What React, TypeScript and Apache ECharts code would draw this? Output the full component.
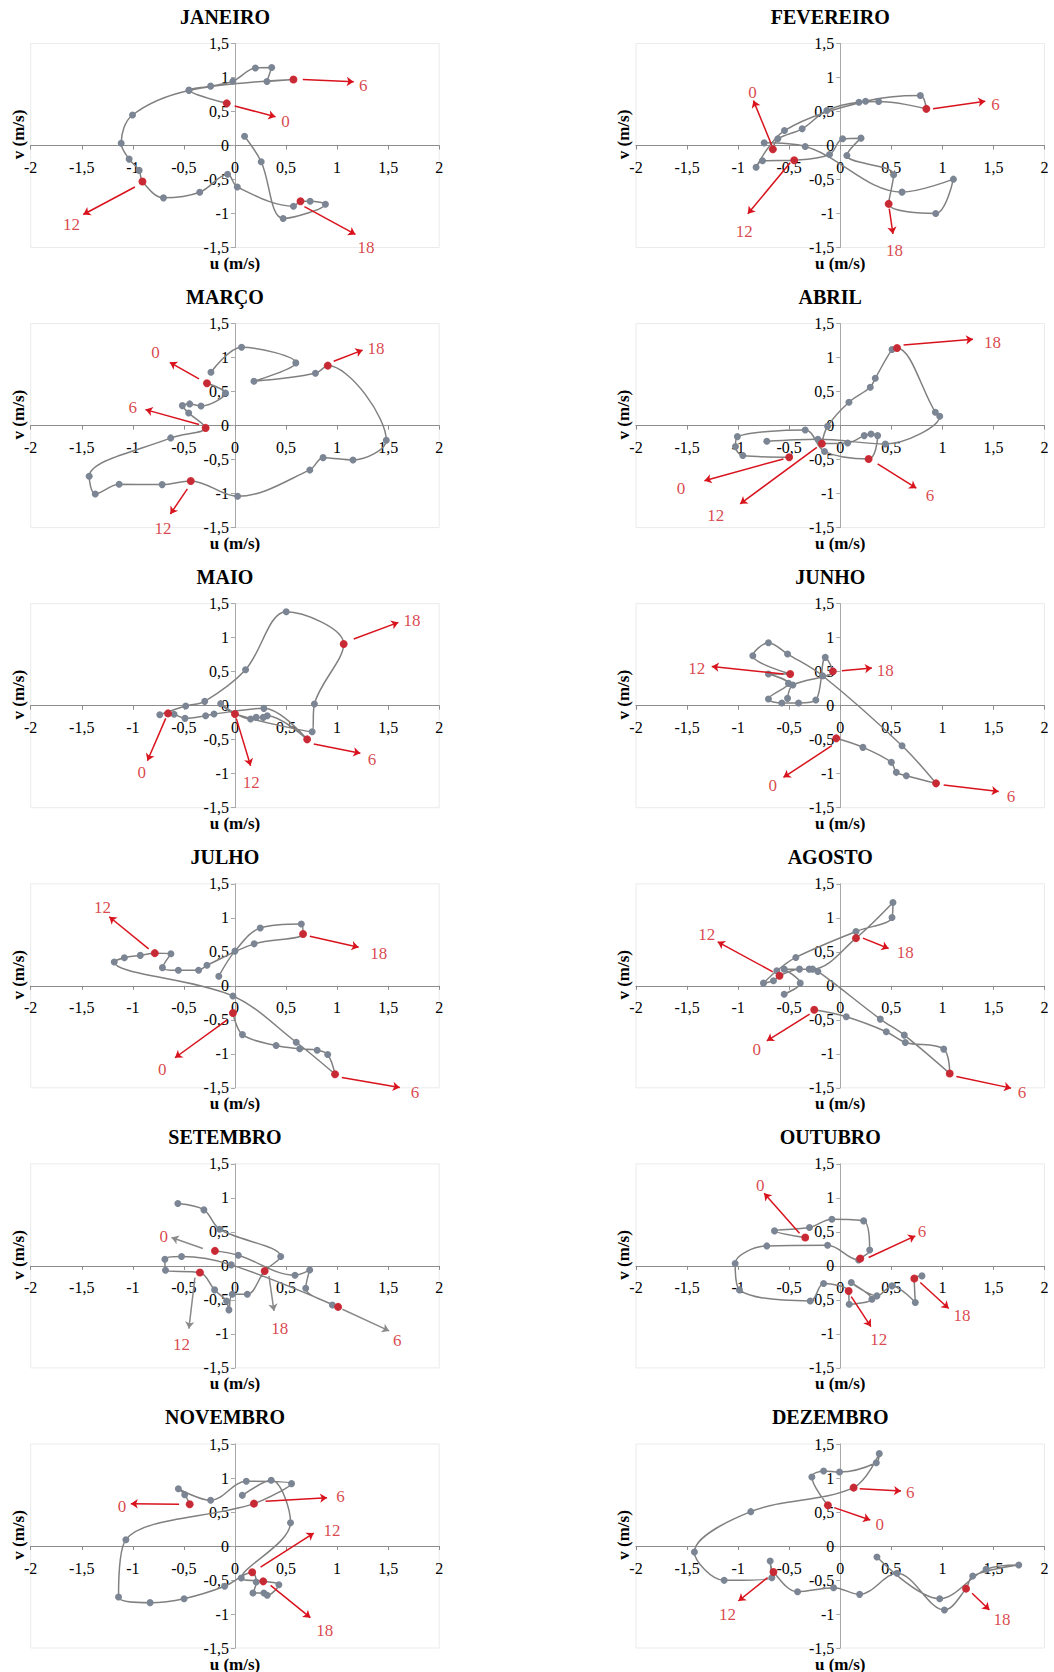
import React, { useEffect, useRef } from "react";
import * as echarts from "echarts";

const months = ["JANEIRO", "FEVEREIRO", "MARÇO", "ABRIL", "MAIO", "JUNHO", "JULHO", "AGOSTO", "SETEMBRO", "OUTUBRO", "NOVEMBRO", "DEZEMBRO"];
const hourLabels = ["0", "6", "12", "18"];

// ---- JANEIRO ----
const janPath = [[-0.08,0.62],[-0.45,0.815],[-0.238,0.873],[-0.02,0.946],[0.2,1.14],[0.36,1.146],[0.313,0.94],[0.573,0.97],[-0.45,0.81],[-1.003,0.449],[-1.114,0.034],[-1.036,-0.2],[-0.938,-0.366],[-0.906,-0.53],[-0.7,-0.77],[-0.345,-0.688],[-0.072,-0.424],[0.023,-0.61],[0.573,-0.893],[0.642,-0.82],[0.736,-0.82],[0.886,-0.863],[0.472,-1.073],[0.257,-0.239],[0.094,0.137]];
const janMarks = [0, 7, 13, 19];
const janArrows = [[-0.003,0.58,0.397,0.424],[0.664,0.97,1.163,0.937],[-0.98,-0.61,-1.485,-1.015],[0.68,-0.9,1.18,-1.307]];
const janLabels = [[0.495,0.35],[1.257,0.888],[-1.6,-1.16],[1.283,-1.5]];

// ---- FEVEREIRO ----
const fevPath = [[-0.66,-0.054],[-0.611,0.098],[-0.373,0.245],[-0.131,0.515],[0.183,0.637],[0.376,0.647],[0.843,0.539],[0.784,0.735],[0.248,0.652],[-0.546,0.22],[-0.824,-0.319],[-0.761,-0.225],[-0.451,-0.216],[-0.105,-0.132],[0.023,0.098],[0.203,0.108],[0.065,-0.147],[0.523,-0.431],[0.474,-0.858],[0.935,-1.0],[1.108,-0.495],[0.605,-0.686],[-0.343,-0.015],[-0.745,0.039]];
const fevMarks = [0, 6, 12, 18];
const fevArrows = [[-0.67,0.0,-0.85,0.66],[0.908,0.539,1.42,0.652],[-0.49,-0.255,-0.905,-1.005],[0.48,-0.93,0.516,-1.3]];
const fevLabels = [[-0.86,0.78],[1.52,0.61],[-0.94,-1.27],[0.53,-1.54]];

// ---- MARÇO ----
const marPath = [[-0.274,0.623],[-0.094,0.48],[-0.332,0.289],[-0.443,0.319],[-0.515,0.294],[-0.453,0.186],[-0.287,-0.034],[-0.629,-0.181],[-1.427,-0.745],[-1.368,-1.005],[-1.134,-0.863],[-0.713,-0.868],[-0.433,-0.814],[0.026,-1.04],[0.733,-0.652],[0.863,-0.471],[1.156,-0.505],[1.482,-0.216],[0.909,0.882],[0.788,0.77],[0.186,0.652],[0.596,0.922],[0.065,1.152],[-0.235,0.784]];
const marMarks = [0, 6, 12, 18];
const marArrows = [[-0.352,0.686,-0.638,0.93],[-0.352,0.015,-0.876,0.235],[-0.466,-0.93,-0.632,-1.3],[0.967,0.946,1.25,1.11]];
const marLabels = [[-0.778,1.07],[-1.0,0.26],[-0.704,-1.52],[1.38,1.14]];

// ---- ABRIL ----
const abrPath = [[-0.5,-0.466],[-0.954,-0.441],[-1.026,-0.309],[-1.007,-0.162],[-0.343,-0.064],[-0.154,-0.382],[0.278,-0.49],[0.366,-0.147],[0.301,-0.123],[0.235,-0.147],[0.072,-0.255],[-0.18,-0.265],[-0.124,-0.01],[0.085,0.343],[0.294,0.564],[0.343,0.696],[0.507,1.118],[0.556,1.142],[0.931,0.196],[0.974,0.137],[0.441,-0.27],[-0.219,-0.2],[-0.719,-0.23]];
const abrMarks = [0, 6, 11, 17];
const abrArrows = [[-0.556,-0.49,-1.33,-0.81],[0.366,-0.564,0.745,-0.92],[-0.229,-0.32,-0.98,-1.15],[0.62,1.186,1.3,1.27]];
const abrLabels = [[-1.56,-0.92],[0.88,-1.03],[-1.22,-1.32],[1.49,1.225]];

// ---- MAIO ----
const maiPath = [[-0.655,-0.113],[-0.596,-0.127],[-0.489,-0.186],[-0.287,-0.147],[-0.205,-0.123],[0.283,-0.039],[0.707,-0.495],[0.316,-0.147],[0.277,-0.172],[0.208,-0.172],[0.153,-0.196],[-0.14,0.03],[0,-0.123],[0.756,-0.382],[0.778,0.025],[1.065,0.907],[0.502,1.382],[0.104,0.529],[-0.296,0.064],[-0.482,-0.005],[-0.736,-0.132]];
const maiMarks = [0, 6, 12, 15];
const maiArrows = [[-0.678,-0.186,-0.857,-0.809],[0.772,-0.564,1.228,-0.7],[0.013,-0.186,0.153,-0.882],[1.163,0.98,1.6,1.225]];
const maiLabels = [[-0.912,-0.98],[1.342,-0.784],[0.16,-1.127],[1.733,1.26]];

// ---- JUNHO ----
const junPath = [[-0.039,-0.48],[0.222,-0.613],[0.5,-0.833],[0.549,-0.98],[0.647,-1.029],[0.938,-1.142],[0.605,-0.588],[-0.173,0.441],[-0.516,0.76],[-0.703,0.926],[-0.856,0.735],[-0.49,0.466],[-0.703,0.466],[-0.507,0.328],[-0.703,0.098],[-0.572,0.039],[-0.408,0.039],[-0.239,0.083],[-0.147,0.711],[-0.072,0.505],[-0.464,0.304],[-0.516,0.108]];
const junMarks = [0, 5, 11, 19];
const junArrows = [[-0.082,-0.588,-0.556,-1.054],[1.013,-1.167,1.552,-1.26],[-0.556,0.466,-1.258,0.578],[0.016,0.515,0.31,0.554]];
const junLabels = [[-0.66,-1.176],[1.673,-1.333],[-1.405,0.549],[0.441,0.515]];

// ---- JULHO ----
const julPath = [[-0.02,-0.4],[0.073,-0.718],[0.403,-0.879],[0.634,-0.927],[0.805,-0.947],[0.908,-1.01],[0.98,-1.3],[0.6,-0.83],[-0.02,-0.15],[-1.182,0.35],[-1.083,0.413],[-0.927,0.447],[-0.785,0.48],[-0.627,0.471],[-0.71,0.267],[-0.554,0.228],[-0.356,0.228],[-0.274,0.301],[0.188,0.617],[0.667,0.762],[0.65,0.908],[0.248,0.85],[0,0.51],[-0.158,0.141]];
const julMarks = [0, 6, 12, 19];
const julArrows = [[-0.076,-0.5,-0.587,-1.058],[1.046,-1.35,1.614,-1.495],[-0.845,0.544,-1.231,1.015],[0.733,0.728,1.211,0.568]];
const julLabels = [[-0.713,-1.228],[1.762,-1.568],[-1.297,1.15],[1.409,0.471]];

// ---- AGOSTO ----
const agoPath = [[-0.255,-0.353],[0.059,-0.456],[0.451,-0.676],[0.637,-0.833],[1.013,-0.931],[1.072,-1.289],[0.627,-0.725],[0.392,-0.49],[-0.219,0.211],[-0.304,0.245],[-0.399,0.245],[-0.595,0.147],[-0.654,0.074],[-0.752,0.039],[-0.621,0.221],[-0.435,0.417],[0.154,0.799],[0.507,1.005],[0.516,1.225],[0.154,0.701],[-0.271,0.245],[-0.549,0.245],[-0.392,0.039],[-0.549,-0.123]];
const agoMarks = [0, 5, 11, 19];
const agoArrows = [[-0.3,-0.417,-0.719,-0.809],[1.137,-1.333,1.673,-1.505],[-0.66,0.206,-1.2,0.647],[0.222,0.701,0.474,0.549]];
const agoLabels = [[-0.817,-0.94],[1.78,-1.57],[-1.307,0.76],[0.637,0.49]];

// ---- SETEMBRO ----
const setPath = [[-0.196,0.221],[0.033,0.157],[0.588,-0.137],[0.732,-0.059],[0.693,-0.328],[0.954,-0.574],[1.01,-0.603],[-0.036,0.015],[-0.523,0.137],[-0.686,0.098],[-0.68,-0.064],[-0.343,-0.098],[-0.199,-0.353],[-0.082,-0.515],[-0.059,-0.647],[-0.026,-0.417],[0.121,-0.417],[0.291,-0.074],[0.448,0.137],[-0.15,0.539],[-0.304,0.824],[-0.559,0.917]];
const setMarks = [0, 6, 11, 17];
const setArrows = [[-0.314,0.255,-0.621,0.417],[1.052,-0.637,1.51,-0.956],[-0.392,-0.172,-0.451,-0.922],[0.333,-0.147,0.382,-0.662]];
const setLabels = [[-0.696,0.43],[1.59,-1.1],[-0.523,-1.152],[0.438,-0.92]];

// ---- OUTUBRO ----
const outPath = [[-0.343,0.417],[-0.644,0.515],[-0.301,0.564],[-0.082,0.686],[0.229,0.662],[0.288,0.235],[0.196,0.108],[0.18,0.088],[-0.124,0.304],[-0.719,0.294],[-1.029,0.034],[-0.987,-0.353],[-0.294,-0.515],[-0.163,-0.26],[0.082,-0.368],[0.088,-0.564],[0.31,-0.49],[0.108,-0.245],[0.359,-0.441],[0.507,-0.294],[0.735,-0.539],[0.725,-0.186],[0.8,-0.147]];
const outMarks = [0, 6, 14, 21];
const outArrows = [[-0.399,0.48,-0.745,1.069],[0.278,0.123,0.735,0.441],[0.108,-0.451,0.3,-0.892],[0.784,-0.245,1.062,-0.627]];
const outLabels = [[-0.784,1.176],[0.8,0.505],[0.376,-1.088],[1.193,-0.725]];

// ---- NOVEMBRO ----
const novPath = [[-0.443,0.613],[-0.492,0.755],[-0.554,0.843],[-0.238,0.672],[0.111,0.951],[0.554,0.917],[0.186,0.623],[-1.068,0.093],[-1.14,-0.75],[-0.831,-0.833],[-0.498,-0.775],[-0.101,-0.593],[0.169,-0.387],[0.208,-0.529],[0.176,-0.691],[0.283,-0.691],[0.316,-0.725],[0.43,-0.569],[0.277,-0.52],[0.062,-0.471],[0.544,0.343],[0.355,0.966],[0.072,0.745]];
const novMarks = [0, 6, 12, 18];
const novArrows = [[-0.547,0.613,-1.02,0.623],[0.3,0.657,0.902,0.711],[0.251,-0.309,0.772,0.191],[0.349,-0.578,0.739,-1.054]];
const novLabels = [[-1.107,0.583],[1.033,0.73],[0.951,0.23],[0.88,-1.24]];

// ---- DEZEMBRO ----
const dezPath = [[-0.121,0.598],[-0.278,1.015],[-0.163,1.103],[-0.007,1.088],[0.353,1.225],[0.382,1.358],[0.131,0.858],[-0.876,0.505],[-1.428,-0.088],[-1.137,-0.505],[-0.67,-0.466],[-0.686,-0.221],[-0.654,-0.382],[-0.418,-0.672],[-0.065,-0.613],[0.19,-0.711],[0.556,-0.402],[1.02,-0.941],[1.232,-0.627],[1.297,-0.441],[1.748,-0.279],[1.428,-0.343],[0.974,-0.775],[0.359,-0.162]];
const dezMarks = [0, 6, 12, 18];
const dezArrows = [[-0.059,0.564,0.294,0.382],[0.19,0.843,0.595,0.809],[-0.712,-0.466,-0.997,-0.809],[1.291,-0.696,1.461,-0.941]];
const dezLabels = [[0.386,0.319],[0.686,0.784],[-1.105,-1.005],[1.585,-1.088]];

const xTicks = { min: -2, max: 2, step: 0.5 };
const yTicks = { min: -1.5, max: 1.5, step: 0.5 };

const monthData = [
  { path: janPath, marks: janMarks, arrows: janArrows, labels: janLabels },
  { path: fevPath, marks: fevMarks, arrows: fevArrows, labels: fevLabels },
  { path: marPath, marks: marMarks, arrows: marArrows, labels: marLabels },
  { path: abrPath, marks: abrMarks, arrows: abrArrows, labels: abrLabels },
  { path: maiPath, marks: maiMarks, arrows: maiArrows, labels: maiLabels },
  { path: junPath, marks: junMarks, arrows: junArrows, labels: junLabels },
  { path: julPath, marks: julMarks, arrows: julArrows, labels: julLabels },
  { path: agoPath, marks: agoMarks, arrows: agoArrows, labels: agoLabels },
  { path: setPath, marks: setMarks, arrows: setArrows, labels: setLabels },
  { path: outPath, marks: outMarks, arrows: outArrows, labels: outLabels },
  { path: novPath, marks: novMarks, arrows: novArrows, labels: novLabels },
  { path: dezPath, marks: dezMarks, arrows: dezArrows, labels: dezLabels },
];

const SERIF = '"Liberation Serif", "Times New Roman", serif';
const RED = "#d9131d";
const LINE_GRAY = "#808080";
const DOT_GRAY = "#7b8594";

const COL_LEFT = [30.7, 636];
const PLOT_W = 408.5;
const PLOT_H = 204;
const ROW_TOP0 = 43.5;
const ROW_STEP = 280.1;

const fmt = (v: number) => String(v).replace(".", ",");

function buildOption() {
  const grids: any[] = [];
  const xAxes: any[] = [];
  const yAxes: any[] = [];
  const series: any[] = [];
  const graphics: any[] = [];

  months.forEach((name, i) => {
    const col = i % 2;
    const row = Math.floor(i / 2);
    const left = COL_LEFT[col];
    const top = ROW_TOP0 + ROW_STEP * row;
    grids.push({
      left, top, width: PLOT_W, height: PLOT_H,
      show: true, borderColor: "#ebebeb", borderWidth: 1, backgroundColor: "transparent",
    });
    // axes sit at the zero of the other axis (ranges are symmetric, zero at the centre)
    xAxes.push({
      gridIndex: i, type: "value", min: xTicks.min, max: xTicks.max, interval: xTicks.step,
      position: "bottom", offset: -PLOT_H / 2,
      axisLine: { onZero: false, lineStyle: { color: "#8c8c8c", width: 1.2 } },
      axisTick: { show: true, length: 4, lineStyle: { color: "#8c8c8c" } },
      splitLine: { show: false },
      axisLabel: { formatter: fmt, fontFamily: SERIF, fontSize: 16, color: "#000", margin: 14, showMinLabel: true, showMaxLabel: true },
    });
    yAxes.push({
      gridIndex: i, type: "value", min: yTicks.min, max: yTicks.max, interval: yTicks.step,
      position: "left", offset: -PLOT_W / 2,
      axisLine: { onZero: false, lineStyle: { color: "#a8a8a8", width: 1 } },
      axisTick: { show: true, length: 4, lineStyle: { color: "#a8a8a8" } },
      splitLine: { show: false },
      axisLabel: { formatter: fmt, fontFamily: SERIF, fontSize: 16, color: "#000", margin: 6, showMinLabel: true, showMaxLabel: true },
    });
    const d = monthData[i];
    series.push({
      type: "line", xAxisIndex: i, yAxisIndex: i, data: d.path, smooth: 0.35,
      symbol: "circle", symbolSize: 7, showAllSymbol: true,
      itemStyle: { color: DOT_GRAY }, lineStyle: { color: LINE_GRAY, width: 1.5 }, z: 2, silent: true,
    });
    series.push({
      type: "scatter", xAxisIndex: i, yAxisIndex: i, data: d.marks.map((k) => d.path[k]),
      symbolSize: 8, itemStyle: { color: RED }, z: 3, silent: true,
    });
    const arrowColor = name === "SETEMBRO" ? "#8a8a8a" : RED;
    series.push({
      type: "lines", coordinateSystem: "cartesian2d", xAxisIndex: i, yAxisIndex: i,
      data: d.arrows.map((a) => ({ coords: [[a[0], a[1]], [a[2], a[3]]] })),
      symbol: ["none", "arrow"], symbolSize: 7,
      lineStyle: { color: arrowColor, width: 1.5, opacity: 1, curveness: 0 },
      z: 4, silent: true, clip: false,
    });
    series.push({
      type: "scatter", xAxisIndex: i, yAxisIndex: i,
      data: d.labels.map((p, k) => ({ value: p, name: hourLabels[k] })),
      symbolSize: 1, itemStyle: { color: "rgba(0,0,0,0)" },
      label: { show: true, position: "inside", formatter: "{b}", color: "#d01520", fontSize: 17, fontFamily: SERIF },
      z: 5, silent: true, clip: false,
    });
    graphics.push({
      type: "text", x: left + PLOT_W / 2 - 10, y: top - 27,
      style: { text: name, fill: "#000", font: `bold 20px ${SERIF}`, fontSize: 20, fontWeight: "bold", fontFamily: SERIF,
        textAlign: "center", textVerticalAlign: "middle", align: "center", verticalAlign: "middle" },
    });
    graphics.push({
      type: "text", x: left + PLOT_W / 2, y: top + PLOT_H + 16,
      style: { text: "u (m/s)", fill: "#000", font: `bold 17px ${SERIF}`, fontSize: 17, fontWeight: "bold", fontFamily: SERIF,
        textAlign: "center", textVerticalAlign: "middle", align: "center", verticalAlign: "middle" },
    });
    graphics.push({
      type: "text", x: left - 12.5, y: top + 91, rotation: Math.PI / 2,
      style: { text: "v (m/s)", fill: "#000", font: `bold 17px ${SERIF}`, fontSize: 17, fontWeight: "bold", fontFamily: SERIF,
        textAlign: "center", textVerticalAlign: "middle", align: "center", verticalAlign: "middle" },
    });
  });

  return {
    animation: false,
    backgroundColor: "#ffffff",
    grid: grids,
    xAxis: xAxes,
    yAxis: yAxes,
    series,
    graphic: graphics,
  };
}

export default function App() {
  const ref = useRef<HTMLDivElement>(null);
  useEffect(() => {
    if (!ref.current) return;
    const chart = echarts.init(ref.current, null, { renderer: "svg" });
    chart.setOption(buildOption() as any);
    return () => chart.dispose();
  }, []);
  return (
    <div
      ref={ref}
      style={{ position: "absolute", left: 0, top: 0, width: 1054, height: 1672, background: "#fff" }}
    />
  );
}
